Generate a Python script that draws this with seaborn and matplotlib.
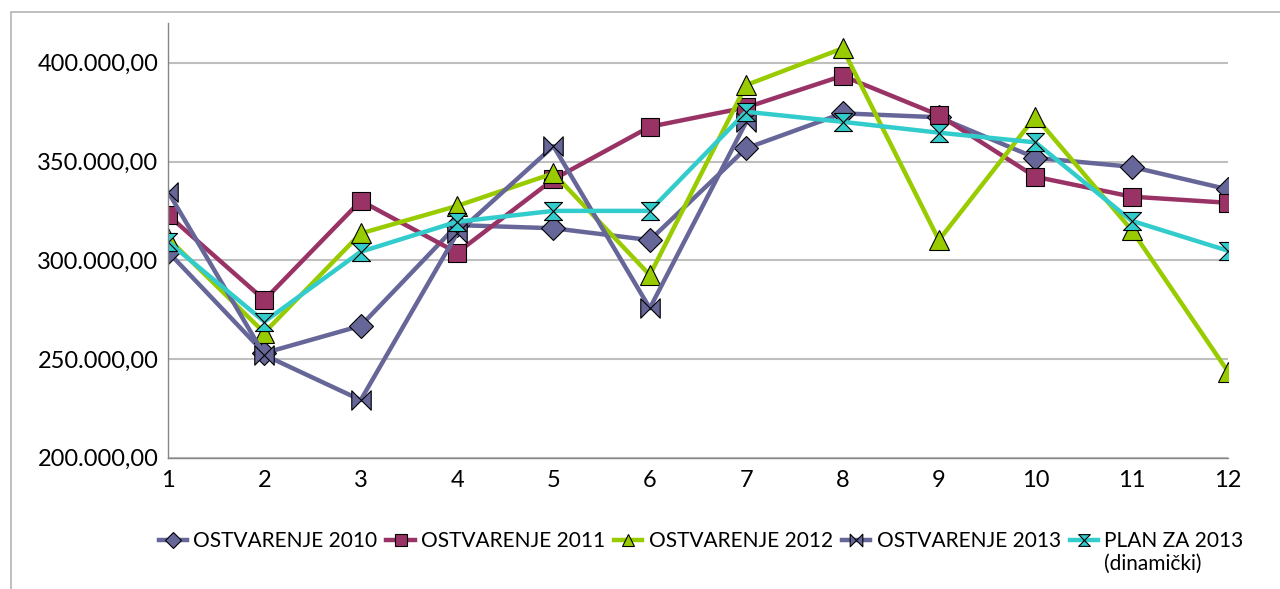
import numpy as np
import pandas as pd
import seaborn as sns
import matplotlib
matplotlib.use("Agg")
import matplotlib.pyplot as plt
from matplotlib.path import Path
from matplotlib.patches import Rectangle
from matplotlib.ticker import FuncFormatter

months = list(range(1, 13))

ostv_2010 = [304300, 253000, 266800, 317800, 316200, 310200, 356700, 374400, 372400, 351900, 347300, 335900]
ostv_2011 = [322900, 279900, 330100, 303800, 341000, 367600, 377400, 393400, 373500, 342300, 332200, 329100]
ostv_2012 = [311100, 263300, 313600, 327500, 344000, 292500, 388700, 407300, 310200, 372700, 315300, 243600]
ostv_2013 = [334700, 252000, 229200, 313600, 357800, 275700, 370000, np.nan, np.nan, np.nan, np.nan, np.nan]
plan_2013 = [309400, 268900, 304300, 319500, 325000, 325000, 375200, 370100, 364600, 359700, 320000, 304800]

labels = ["OSTVARENJE 2010", "OSTVARENJE 2011", "OSTVARENJE 2012",
          "OSTVARENJE 2013", "PLAN ZA 2013"]
label_extra = "(dinamički)"
colors = ["#666699", "#993366", "#99CC00", "#666699", "#33CCCC"]

# custom excel-like markers
M, L, C = Path.MOVETO, Path.LINETO, Path.CLOSEPOLY
bowtie = Path([(-1, -1), (0, 0), (-1, 1), (-1, -1), (1, -1), (0, 0), (1, 1), (1, -1)],
              [M, L, L, C, M, L, L, C])
hourglass = Path([(-1, 1), (1, 1), (0, 0), (-1, 1), (-1, -1), (1, -1), (0, 0), (-1, -1)],
                 [M, L, L, C, M, L, L, C])
markers = ["D", "s", "^", bowtie, hourglass]
msizes = [12, 13, 14, 14, 13]

plt.rcParams['font.family'] = ['Lato', 'DejaVu Sans']

fig = plt.figure(figsize=(12.8, 5.89), dpi=100)
ax = fig.add_axes([168 / 1280, 1 - 457.7 / 589, (1228 - 168) / 1280, (457.7 - 23.3) / 589])

series = [ostv_2010, ostv_2011, ostv_2012, ostv_2013, plan_2013]
for vals, lab, col, mk, ms in zip(series, labels, colors, markers, msizes):
    df = pd.DataFrame({"mjesec": months, "iznos": vals}).dropna()
    sns.lineplot(data=df, x="mjesec", y="iznos", ax=ax, color=col, linewidth=3.2,
                 marker=mk, markersize=ms, markerfacecolor=col,
                 markeredgecolor="black", markeredgewidth=0.8, label=lab)

ax.set_xlim(1, 12)
ax.set_ylim(200000, 420000)
ax.set_xticks(months)
ax.set_yticks([200000, 250000, 300000, 350000, 400000])
ax.yaxis.set_major_formatter(FuncFormatter(
    lambda v, p: f"{v:,.2f}".replace(",", "X").replace(".", ",").replace("X", ".")))
ax.grid(axis="y", color="#BFBFBF", linewidth=1.5)
ax.set_axisbelow(True)
ax.set_xlabel("")
ax.set_ylabel("")
for s in ["top", "right"]:
    ax.spines[s].set_visible(False)
for s in ["left", "bottom"]:
    ax.spines[s].set_color("#868686")
    ax.spines[s].set_linewidth(1)
ax.tick_params(axis="both", length=0, labelsize=17, colors="black")
ax.tick_params(axis="y", pad=7)
ax.tick_params(axis="x", pad=9)

leg = ax.legend(loc="upper center", bbox_to_anchor=(0.503, -0.15), ncol=5, frameon=False,
                fontsize=15, handlelength=1.35, columnspacing=0.45, handletextpad=0.3,
                markerscale=0.65, borderaxespad=0)

# second line of the plan label, hung under the legend entry
fig.canvas.draw()
bb = leg.get_texts()[-1].get_window_extent()
fig.text(bb.x0 / fig.bbox.width, (bb.y0 - 3) / fig.bbox.height, label_extra,
         ha="left", va="top", fontsize=15)

# outer chart border (only top and left visible in the crop)
fig.patches.append(Rectangle((11 / 1280, -0.2), 1.2, 1.2 - 11.7 / 589,
                             transform=fig.transFigure, fill=False,
                             edgecolor="#B4B4B4", linewidth=1.2))

fig.savefig("out.png", dpi=100)
